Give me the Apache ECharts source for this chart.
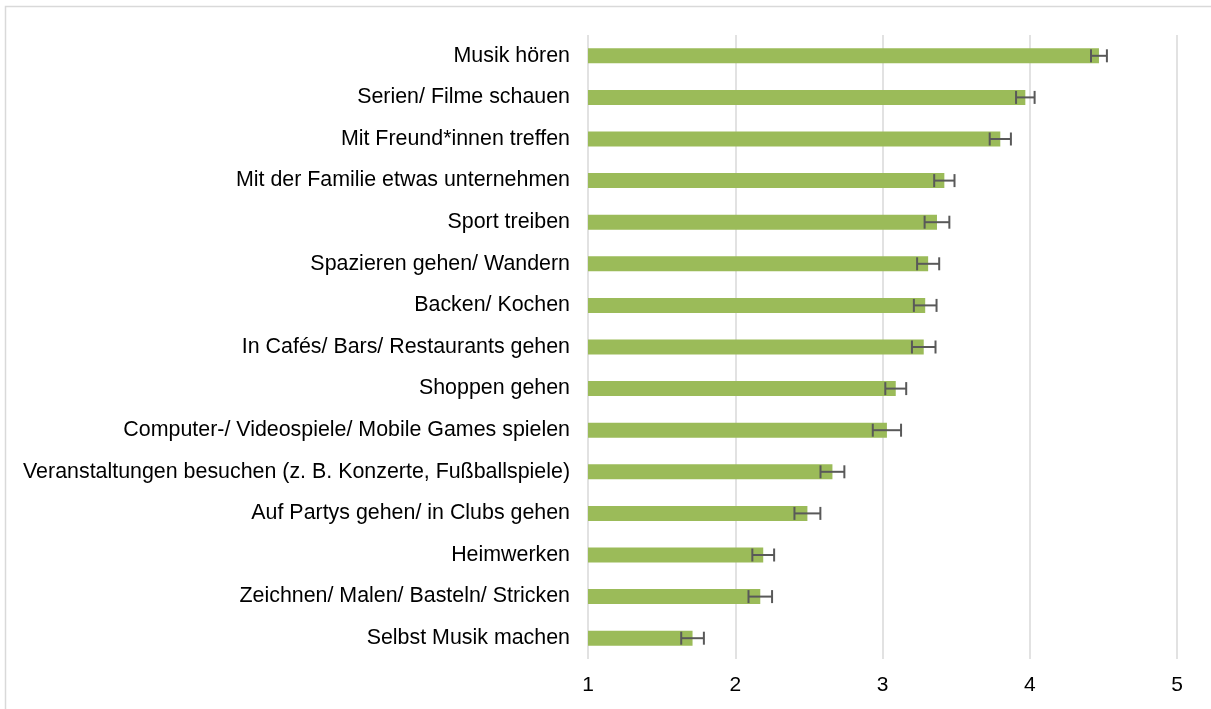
<!DOCTYPE html>
<html>
<head>
<meta charset="utf-8">
<script src="https://cdn.jsdelivr.net/npm/echarts@6/dist/echarts.min.js"></script>
<style>
  html, body { margin: 0; padding: 0; background: #ffffff; }
  #chart { width: 1211px; height: 709px; }
</style>
</head>
<body>
<div id="chart"></div>
<script>
// Freizeitaktivitäten: Mittelwerte (Skala 1–5) mit Fehlerbalken
const categories = [
  'Musik hören',
  'Serien/ Filme schauen',
  'Mit Freund*innen treffen',
  'Mit der Familie etwas unternehmen',
  'Sport treiben',
  'Spazieren gehen/ Wandern',
  'Backen/ Kochen',
  'In Cafés/ Bars/ Restaurants gehen',
  'Shoppen gehen',
  'Computer-/ Videospiele/ Mobile Games spielen',
  'Veranstaltungen besuchen (z. B. Konzerte, Fußballspiele)',
  'Auf Partys gehen/ in Clubs gehen',
  'Heimwerken',
  'Zeichnen/ Malen/ Basteln/ Stricken',
  'Selbst Musik machen'
];
const means = [4.47, 3.97, 3.80, 3.42, 3.37, 3.31, 3.29, 3.28, 3.09, 3.03, 2.66, 2.49, 2.19, 2.17, 1.71];
const errors = [0.054, 0.063, 0.072, 0.069, 0.084, 0.075, 0.077, 0.080, 0.071, 0.096, 0.081, 0.088, 0.074, 0.080, 0.077];
const xTicks = [1, 2, 3, 4, 5];

const errorData = means.map((m, i) => [m, i, errors[i]]);

const chart = echarts.init(document.getElementById('chart'));
chart.setOption({
  animation: false,
  backgroundColor: '#ffffff',
  graphic: [{
    type: 'rect',
    shape: { x: 5.5, y: 6.5, width: 1240, height: 740 },
    style: { fill: 'none', stroke: '#d9d9d9', lineWidth: 1.5 },
    silent: true,
    z: -10
  }],
  grid: { left: 588, right: 34, top: 35, bottom: 50 },
  xAxis: {
    type: 'value',
    min: xTicks[0],
    max: xTicks[xTicks.length - 1],
    interval: 1,
    axisLine: { show: false },
    axisTick: { show: false },
    splitLine: { show: true, lineStyle: { color: '#d9d9d9', width: 1.5 } },
    axisLabel: {
      color: '#000000',
      fontFamily: 'Liberation Sans, Arial, sans-serif',
      fontSize: 21,
      margin: 16
    }
  },
  yAxis: {
    type: 'category',
    data: categories,
    inverse: true,
    axisLine: { show: false },
    axisTick: { show: false },
    splitLine: { show: false },
    axisLabel: {
      color: '#000000',
      fontFamily: 'Liberation Sans, Arial, sans-serif',
      fontSize: 21.4,
      margin: 18
    }
  },
  series: [
    {
      type: 'bar',
      data: means,
      barWidth: 15,
      itemStyle: { color: '#9bbb59' },
      z: 2
    },
    {
      type: 'custom',
      data: errorData,
      encode: { x: 0, y: 1 },
      z: 3,
      renderItem: function (params, api) {
        const v = api.value(0);
        const idx = api.value(1);
        const e = api.value(2);
        const lo = api.coord([v - e, idx]);
        const hi = api.coord([v + e, idx]);
        const cap = 6.5;
        const st = { stroke: '#595959', lineWidth: 2 };
        return {
          type: 'group',
          children: [
            { type: 'line', shape: { x1: lo[0], y1: lo[1], x2: hi[0], y2: hi[1] }, style: st },
            { type: 'line', shape: { x1: lo[0], y1: lo[1] - cap, x2: lo[0], y2: lo[1] + cap }, style: st },
            { type: 'line', shape: { x1: hi[0], y1: hi[1] - cap, x2: hi[0], y2: hi[1] + cap }, style: st }
          ]
        };
      }
    }
  ]
});
</script>
</body>
</html>
